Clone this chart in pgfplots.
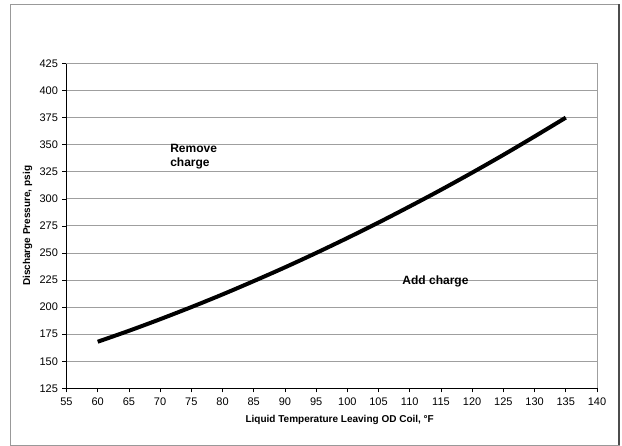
\documentclass[border=0pt]{standalone}
\usepackage{fontspec}
\setmainfont{Liberation Sans}
\usepackage{pgfplots}
\pgfplotsset{compat=1.18}
\begin{document}
\begin{tikzpicture}[x=1pt,y=1pt]
\useasboundingbox (-66.5,-57.7) rectangle (555.5,388.3);
\draw[gray!80, line width=0.8pt] (-56.5,-56.7) rectangle (552.5,384.3);
\draw[black!70, line width=1.5pt] (552.5,-56.7) -- (552.5,384.3);
\begin{axis}[
  at={(0,0)}, anchor=south west,
  scale only axis, width=530.5pt, height=324.8pt,
  xmin=55, xmax=140, ymin=125, ymax=425,
  xtick={55,60,...,140}, ytick={125,150,...,425},
  axis lines*=left,
  axis line style={black, line width=1pt},
  tick style={black, line width=0.6pt},
  major tick length=4pt,
  tick align=outside,
  ymajorgrids,
  grid style={gray!75, line width=0.8pt},
  /pgf/number format/assume math mode=true,
  tick label style={font=\fontsize{11}{13}\selectfont},
  xticklabel style={yshift=-2pt},
  yticklabel style={xshift=-1pt},
  clip=false,
  xlabel={\textbf{Liquid Temperature Leaving OD Coil, °F}},
  ylabel={\textbf{Discharge Pressure, psig}},
  xlabel style={at={(axis description cs:0.515,-0.0976)}, anchor=center, font=\fontsize{10}{12}\selectfont},
  ylabel style={at={(axis description cs:-0.0735,0.5)}, anchor=center, rotate=0, font=\fontsize{10}{12}\selectfont},
]
\draw[gray!75, line width=0.8pt] (rel axis cs:0,1) -- (rel axis cs:1,1) -- (rel axis cs:1,0);
\addplot[black, line width=4pt, smooth] coordinates {
  (60,168.0) (65,178.1) (70,188.8) (75,200.0) (80,211.7) (85,224.0)
  (90,236.7) (95,250.0) (100,263.8) (105,278.1) (110,293.0) (115,308.3)
  (120,324.2) (125,340.6) (130,357.6) (135,375.0)
};
\node[anchor=west, align=left, font=\bfseries\fontsize{12}{14.5}\selectfont, inner sep=0pt] at (axis cs:71.6,339) {Remove\\charge};
\node[anchor=west, font=\bfseries\fontsize{12}{14}\selectfont, inner sep=0pt] at (axis cs:108.8,223.3) {Add charge};
\end{axis}
\end{tikzpicture}
\end{document}
